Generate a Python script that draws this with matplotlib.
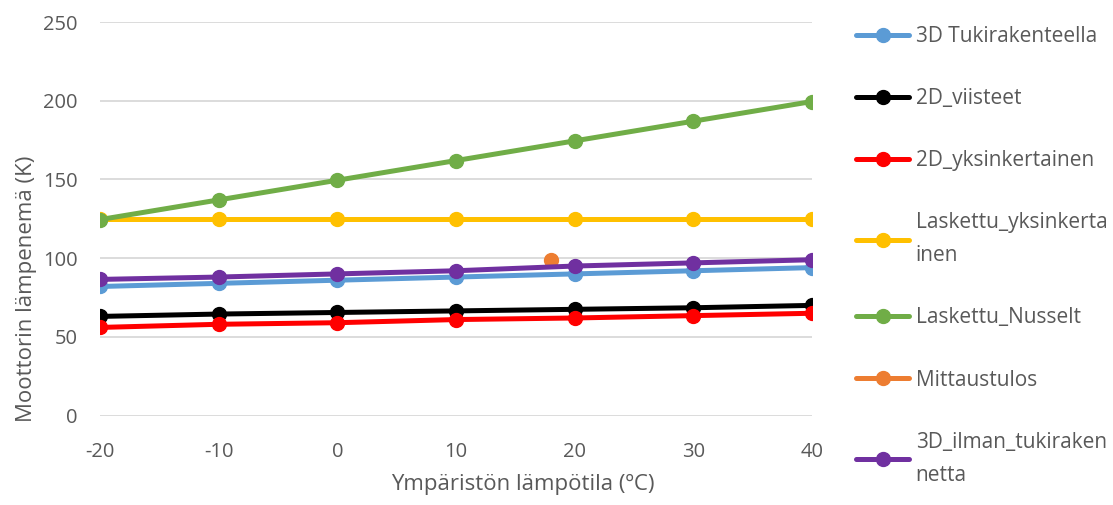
import matplotlib.pyplot as plt

plt.rcParams['font.family'] = ['Open Sans', 'DejaVu Sans']
plt.rcParams['axes.unicode_minus'] = False

# Ambient temperature (degC)
temps = [-20, -10, 0, 10, 20, 30, 40]

# Motor temperature rise (K) for each model
tuki_3d = [82, 84, 86, 88, 90, 92, 94]
viisteet_2d = [63, 64.5, 65.5, 66.5, 67.5, 68.5, 70]
yksinkertainen_2d = [56, 58, 59, 61, 62, 63.5, 65]
laskettu_yks = [125, 125, 125, 125, 125, 125, 125]
laskettu_nusselt = [124.5, 137, 149.5, 162, 174.5, 187, 199.5]
mittaus_temp = [18]
mittaus = [99]
ilman_tuki_3d = [86.5, 88, 90, 92, 95, 97, 99]

series = [
    (temps, tuki_3d, '3D Tukirakenteella', '#5B9BD5'),
    (temps, viisteet_2d, '2D_viisteet', '#000000'),
    (temps, yksinkertainen_2d, '2D_yksinkertainen', '#FF0000'),
    (temps, laskettu_yks, 'Laskettu_yksinkerta\ninen', '#FFC000'),
    (temps, laskettu_nusselt, 'Laskettu_Nusselt', '#70AD47'),
    (mittaus_temp, mittaus, 'Mittaustulos', '#ED7D31'),
    (temps, ilman_tuki_3d, '3D_ilman_tukiraken\nnetta', '#7030A0'),
]

grey = '#595959'

fig = plt.figure(figsize=(11.13, 5.05), dpi=100)
ax = fig.add_axes([100 / 1113, 1 - 415.6 / 505, 712 / 1113, (415.6 - 22) / 505])

for i, (x, y, name, col) in enumerate(series):
    ax.plot(x, y, color=col, lw=3.6, marker='o', markersize=10,
            label=name, zorder=3 + i, solid_capstyle='round')

ax.set_xlim(-20, 40)
ax.set_ylim(0, 250)
ax.set_xticks(range(-20, 41, 10))
ax.set_yticks(range(0, 251, 50))
ax.grid(axis='y', color='#D9D9D9', lw=1.3)
ax.set_axisbelow(True)
for s in ax.spines.values():
    s.set_visible(False)
ax.tick_params(length=0, labelsize=14.5, labelcolor=grey)
ax.tick_params(axis='y', pad=16)
ax.tick_params(axis='x', pad=19)

ax.set_xlabel('Ympäristön lämpötila (ºC)', fontsize=16, color=grey)
ax.set_ylabel('Moottorin lämpenemä (K)', fontsize=16, color=grey)
ax.xaxis.set_label_coords(0.594, -0.148)
ax.yaxis.set_label_coords(-0.088, 0.322)

leg = fig.legend(loc='upper left', bbox_to_anchor=(848 / 1113, 1 - 18 / 505),
                 frameon=False, fontsize=15, labelcolor=grey, handlelength=2.55,
                 handletextpad=0.3, labelspacing=1.97, borderaxespad=0)
for t in leg.get_texts():
    t.set_linespacing(1.75)

fig.savefig('out.png', dpi=100)
